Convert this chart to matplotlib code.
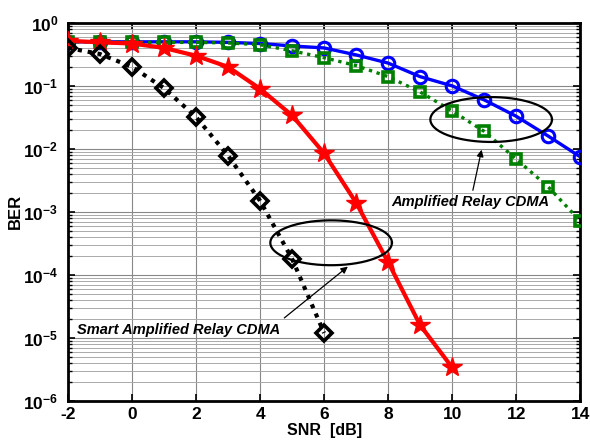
import numpy as np
import matplotlib
matplotlib.use("Agg")
import matplotlib.pyplot as plt
from matplotlib import rcParams
from matplotlib.ticker import FuncFormatter, FixedLocator, NullFormatter

rcParams["font.family"] = "Liberation Sans"
rcParams["font.weight"] = "bold"
rcParams["axes.unicode_minus"] = False
rcParams["mathtext.fontset"] = "custom"
rcParams["mathtext.rm"] = "Liberation Sans:bold"
rcParams["mathtext.bf"] = "Liberation Sans:bold"
rcParams["mathtext.it"] = "Liberation Sans:italic:bold"

# data
snr = [-2, -1, 0, 1, 2, 3, 4, 5, 6, 7, 8, 9, 10, 11, 12, 13, 14]
ber_blue = [0.50, 0.50, 0.50, 0.50, 0.50, 0.49, 0.47, 0.43, 0.40, 0.31, 0.23,
            0.14, 0.10, 0.060, 0.033, 0.016, 0.0075]
ber_green = [0.50, 0.50, 0.49, 0.49, 0.49, 0.48, 0.45, 0.36, 0.28, 0.21, 0.14,
             0.080, 0.040, 0.019, 0.0069, 0.0025, 0.00072]
snr_red = [-2, -1, 0, 1, 2, 3, 4, 5, 6, 7, 8, 9, 10]
ber_red = [0.52, 0.49, 0.47, 0.40, 0.30, 0.20, 0.09, 0.034, 0.0085, 0.0014,
           1.6e-4, 1.6e-5, 3.4e-6]
snr_black = [-2, -1, 0, 1, 2, 3, 4, 5, 6]
ber_black = [0.40, 0.32, 0.20, 0.092, 0.032, 0.0078, 0.0015, 1.8e-4, 1.2e-5]

fig = plt.figure(figsize=(5.9, 4.48), dpi=100)
ax = fig.add_axes([0.1153, 0.105, 0.868, 0.844])

ax.semilogy(snr, ber_blue, color="#0000FF", lw=2.4, ls="-", marker="o", ms=9,
            mfc="none", mew=2.2, zorder=3)
ax.semilogy(snr, ber_green, color="#008000", lw=2.4, ls=(0, (1, 1.4)), marker="s",
            ms=7, mfc="none", mew=2.6, zorder=4)
ax.semilogy(snr_red, ber_red, color="#FF0000", lw=3, ls="-", marker="*", ms=15,
            mfc="#FF0000", mew=1, zorder=5)
ax.semilogy(snr_black, ber_black, color="black", lw=3, ls=(0, (1, 1.4)), marker="D",
            ms=8, mfc="none", mew=2.6, zorder=6)

ax.set_xlim(-2, 14)
ax.set_ylim(1e-6, 1)
ax.set_xticks(np.arange(-2, 15, 2))
decades = np.arange(-6, 1)
ax.yaxis.set_major_locator(FixedLocator(10.0 ** decades))
minors = [m * 10.0 ** d for d in decades[:-1] for m in range(2, 10)]
ax.yaxis.set_minor_locator(FixedLocator(minors))
ax.yaxis.set_minor_formatter(NullFormatter())
ax.yaxis.set_major_formatter(FuncFormatter(lambda v, p: r"$\mathbf{10^{%d}}$" % round(np.log10(v))))

ax.grid(True, which="major", color="#888888", lw=0.8)
ax.grid(True, which="minor", axis="y", color="#AAAAAA", lw=0.7)
ax.set_axisbelow(True)

for s in ax.spines.values():
    s.set_linewidth(2)
ax.tick_params(which="both", direction="in", top=True, right=True, labelsize=12.5)
ax.tick_params(which="major", length=5, width=1.2)
ax.tick_params(which="minor", length=3, width=1)
ax.tick_params(axis="x", pad=4)
ax.tick_params(axis="y", pad=7)

ax.set_xlabel("SNR  [dB]", fontsize=11.5, fontweight="bold", labelpad=1)
ax.set_ylabel("BER", fontsize=12, fontweight="bold", labelpad=0)

# annotations: ellipses drawn in (x, log10 y)
t = np.linspace(0, 2 * np.pi, 200)
for cx, cy in [(11.22, -1.534), (6.22, -3.49)]:
    ax.plot(cx + 1.9 * np.cos(t), 10 ** (cy + 0.356 * np.sin(t)), color="black",
            lw=1.6, zorder=7)

ax.annotate("", xy=(10.94, 10 ** -1.97), xytext=(10.63, 10 ** -2.70),
            arrowprops=dict(arrowstyle="-|>", color="black", lw=0.9, mutation_scale=10))
ax.text(10.56, 10 ** -2.84, "Amplified Relay CDMA", fontsize=10.5, style="italic",
        fontweight="bold", ha="center", va="center", zorder=8)
ax.annotate("", xy=(6.81, 10 ** -3.84), xytext=(4.69, 10 ** -4.71),
            arrowprops=dict(arrowstyle="-|>", color="black", lw=0.9, mutation_scale=10))
ax.text(1.47, 10 ** -4.87, "Smart Amplified Relay CDMA", fontsize=10.5, style="italic",
        fontweight="bold", ha="center", va="center", zorder=8)

plt.savefig("out.png", dpi=100)
